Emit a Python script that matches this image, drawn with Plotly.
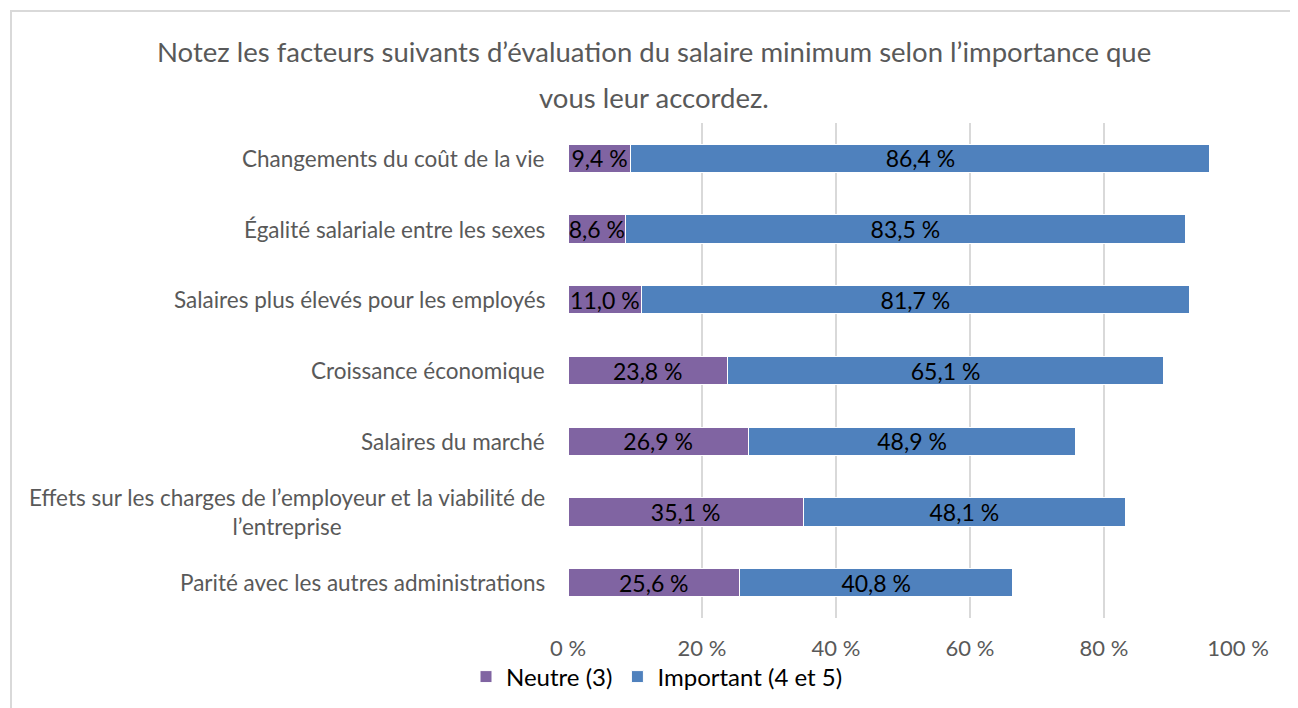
import plotly.graph_objects as go

categories = [
    "Changements du coût de la vie",
    "Égalité salariale entre les sexes",
    "Salaires plus élevés pour les employés",
    "Croissance économique",
    "Salaires du marché",
    "Effets sur les charges de l’employeur et la viabilité de<br>l’entreprise",
    "Parité avec les autres administrations",
]
neutre = [9.4, 8.6, 11.0, 23.8, 26.9, 35.1, 25.6]
important = [86.4, 83.5, 81.7, 65.1, 48.9, 48.1, 40.8]
series_names = ["Neutre (3)", "Important (4 et 5)"]
title_lines = [
    "Notez les facteurs suivants d’évaluation du salaire minimum selon l’importance que",
    "vous leur accordez.",
]
x_ticks = [0, 20, 40, 60, 80, 100]
x_tick_labels = ["0 %", "20 %", "40 %", "60 %", "80 %", "100 %"]

FONT = "Lato"
GRAY = "#595959"

def fmt(v):
    return f"{v:.1f}".replace(".", ",") + " %"

fig = go.Figure()
for name, vals, color in [(series_names[0], neutre, "#8064A2"), (series_names[1], important, "#4F81BD")]:
    fig.add_trace(go.Bar(
        y=categories, x=vals, name=name, orientation="h",
        marker=dict(color=color, line=dict(color="white", width=1)),
        text=[fmt(v) for v in vals], textposition="inside",
        insidetextanchor="middle", constraintext="none",
        textfont=dict(family=FONT, size=23, color="black"),
        hoverinfo="skip",
    ))

W, H = 1298, 708
OFF = 8  # page body margin
L, R, T, B = 568 - OFF, 1238 - OFF, 123 - OFF, 618 - OFF

def px_x(p):
    return (p - OFF - L) / (R - L)

def px_y(p):
    return (B - (p - OFF)) / (B - T)

annotations = []
for cat in categories:
    annotations.append(dict(
        x=px_x(547), y=cat, xref="paper", yref="y", text=cat,
        showarrow=False, xanchor="right", yanchor="middle", align="center",
        font=dict(family=FONT, size=22.5, color=GRAY),
    ))
for line, py in zip(title_lines, [52, 97]):
    annotations.append(dict(
        x=px_x(654), y=px_y(py), xref="paper", yref="paper", text=line,
        showarrow=False, xanchor="center", yanchor="middle",
        font=dict(family=FONT, size=27.5, color=GRAY),
    ))

fig.update_layout(
    width=W, height=H,
    margin=dict(l=L, r=W - R, t=T, b=H - B, pad=0),
    paper_bgcolor="white", plot_bgcolor="white",
    barmode="stack", bargap=0.6,
    uniformtext=dict(minsize=23, mode="show"),
    showlegend=True,
    legend=dict(orientation="h", x=px_x(657), y=px_y(677), xanchor="center", yanchor="middle",
                bgcolor="rgba(0,0,0,0)",
                font=dict(family=FONT, size=24, color="black"), traceorder="normal",
                itemwidth=30),
    xaxis=dict(range=[0, 100], tickmode="array", tickvals=x_ticks, ticktext=x_tick_labels,
               showgrid=True, gridcolor="#D9D9D9", gridwidth=2, zeroline=False, showline=False,
               ticks="outside", ticklen=11, tickcolor="rgba(0,0,0,0)",
               tickfont=dict(family=FONT, size=22, color=GRAY), fixedrange=True),
    yaxis=dict(categoryorder="array", categoryarray=categories, autorange="reversed",
               showticklabels=False, showgrid=False, zeroline=False, showline=False,
               fixedrange=True),
    annotations=annotations,
    shapes=[dict(type="rect", xref="paper", yref="paper",
                 x0=px_x(11), x1=px_x(1296), y0=px_y(716), y1=px_y(11),
                 line=dict(color="#D9D9D9", width=2), fillcolor="rgba(0,0,0,0)", layer="below")],
    font=dict(family=FONT),
)

fig.write_html("out.html")
